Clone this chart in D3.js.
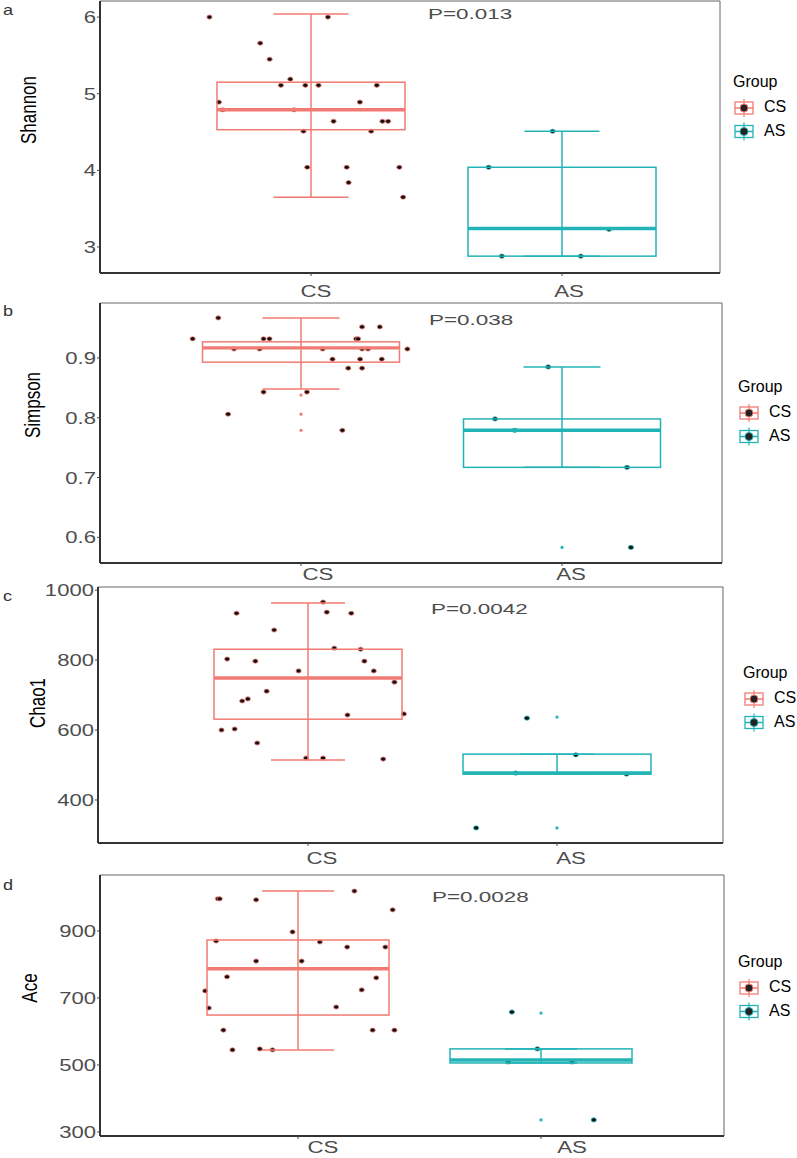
<!DOCTYPE html>
<html><head><meta charset="utf-8">
<script src="https://cdn.jsdelivr.net/npm/d3@7"></script>
<style>body{margin:0;background:#fff} text{font-family:"Liberation Sans",Arial,sans-serif}</style>
</head><body><svg id="c" width="797" height="1158"></svg>
<script>
// ---------- data ----------
const groups = ["CS", "AS"];
const panelLabels = ["a", "b", "c", "d"];
const yTitles = ["Shannon", "Simpson", "Chao1", "Ace"];
const pValues = ["P=0.013", "P=0.038", "P=0.0042", "P=0.0028"];

const shannonTicks = [3, 4, 5, 6];
const simpsonTicks = [0.6, 0.7, 0.8, 0.9];
const chao1Ticks = [400, 600, 800, 1000];
const aceTicks = [300, 500, 700, 900];

// box stats: [lower whisker, Q1, median, Q3, upper whisker]
const shannonBoxCS = [3.65, 4.53, 4.79, 5.15, 6.04];
const shannonBoxAS = [2.88, 2.88, 3.24, 4.04, 4.51];
const shannonOutCS = [];
const shannonOutAS = [];
const shannonCS = [6.0, 6.0, 5.66, 5.45, 5.19, 5.11, 5.11, 5.11, 5.11, 4.89, 4.89, 4.79, 4.79, 4.64, 4.64, 4.64, 4.51, 4.51, 4.04, 4.04, 4.04, 3.84, 3.65];
const shannonCSJitter = [-0.54, 0.09, -0.27, -0.22, -0.11, -0.16, -0.03, 0.04, 0.35, -0.49, 0.26, -0.47, -0.09, 0.12, 0.38, 0.41, -0.04, 0.32, -0.02, 0.19, 0.47, 0.20, 0.49];
const shannonAS = [4.51, 4.04, 3.23, 2.88, 2.88];
const shannonASJitter = [-0.05, -0.39, 0.25, -0.32, 0.10];

const simpsonBoxCS = [0.848, 0.893, 0.917, 0.927, 0.967];
const simpsonBoxAS = [0.717, 0.717, 0.779, 0.798, 0.885];
const simpsonOutCS = [0.838, 0.806, 0.779];
const simpsonOutAS = [0.583];
const simpsonCS = [0.967, 0.932, 0.932, 0.932, 0.932, 0.932, 0.952, 0.952, 0.915, 0.915, 0.915, 0.915, 0.915, 0.915, 0.898, 0.898, 0.898, 0.883, 0.883, 0.843, 0.843, 0.806, 0.779];
const simpsonCSJitter = [-0.42, -0.55, -0.19, -0.16, 0.28, 0.29, 0.31, 0.40, -0.34, -0.21, 0.11, 0.31, 0.34, 0.54, 0.16, 0.30, 0.41, 0.24, 0.31, -0.19, 0.03, -0.37, 0.21];
const simpsonAS = [0.885, 0.798, 0.779, 0.717, 0.583];
const simpsonASJitter = [-0.07, -0.34, -0.24, 0.33, 0.35];

const chao1BoxCS = [514, 631, 749, 831, 963];
const chao1BoxAS = [474, 474, 477, 531, 531];
const chao1OutCS = [];
const chao1OutAS = [637, 320];
const chao1CS = [934, 966, 937, 934, 886, 834, 831, 803, 797, 797, 769, 769, 737, 711, 683, 689, 643, 646, 600, 603, 563, 520, 520, 517];
const chao1CSJitter = [-0.38, 0.08, 0.10, 0.23, -0.18, 0.14, 0.28, -0.43, -0.28, 0.30, -0.05, 0.35, 0.46, -0.22, -0.35, -0.32, 0.21, 0.51, -0.46, -0.39, -0.27, -0.01, 0.08, 0.40];
const chao1AS = [634, 529, 477, 474, 320];
const chao1ASJitter = [-0.16, 0.10, -0.22, 0.37, -0.43];

const aceBoxCS = [545, 649, 787, 873, 1019];
const aceBoxAS = [506, 506, 515, 548, 548];
const aceOutCS = [];
const aceOutAS = [655, 336];
const aceCS = [1019, 996, 996, 993, 963, 897, 870, 867, 852, 852, 810, 810, 763, 760, 721, 724, 670, 673, 604, 604, 604, 545, 548, 545];
const aceCSJitter = [0.31, -0.44, -0.43, -0.23, 0.52, -0.03, -0.45, 0.12, 0.27, 0.48, -0.23, 0.02, -0.39, 0.43, -0.51, 0.35, -0.49, 0.21, -0.41, 0.41, 0.53, -0.36, -0.21, -0.14];
const aceAS = [658, 548, 509, 509, 336];
const aceASJitter = [-0.16, -0.02, -0.18, 0.17, 0.29];

// ---------- layout & style ----------
const colors = {CS: "#F17B72", AS: "#22B3B6"};
const panels = [
  {ticks: shannonTicks, box: {CS: shannonBoxCS, AS: shannonBoxAS}, out: {CS: shannonOutCS, AS: shannonOutAS},
   pts: {CS: shannonCS, AS: shannonAS}, jit: {CS: shannonCSJitter, AS: shannonASJitter},
   frame: {l: 100, t: 1, r: 720, b: 273}, domain: [2.66, 6.21], centers: [311, 562], boxW: 188, capW: 75,
   xlab: [316, 569], xlabY: 297, p: [428, 19], leg: [733, 87], yt: [28, 110], pl: [3, 15]},
  {ticks: simpsonTicks, box: {CS: simpsonBoxCS, AS: simpsonBoxAS}, out: {CS: simpsonOutCS, AS: simpsonOutAS},
   pts: {CS: simpsonCS, AS: simpsonAS}, jit: {CS: simpsonCSJitter, AS: simpsonASJitter},
   frame: {l: 100, t: 303, r: 722, b: 563}, domain: [0.557, 0.992], centers: [301, 562], boxW: 197, capW: 77,
   xlab: [318, 571], xlabY: 580, p: [429, 325], leg: [738, 392], yt: [32, 405], pl: [3, 316]},
  {ticks: chao1Ticks, box: {CS: chao1BoxCS, AS: chao1BoxAS}, out: {CS: chao1OutCS, AS: chao1OutAS},
   pts: {CS: chao1CS, AS: chao1AS}, jit: {CS: chao1CSJitter, AS: chao1ASJitter},
   frame: {l: 98, t: 587, r: 723, b: 843}, domain: [277, 1009], centers: [308, 557], boxW: 188, capW: 74,
   xlab: [322, 571], xlabY: 864, p: [431, 614], leg: [743, 678], yt: [37, 703], pl: [3, 601]},
  {ticks: aceTicks, box: {CS: aceBoxCS, AS: aceBoxAS}, out: {CS: aceOutCS, AS: aceOutAS},
   pts: {CS: aceCS, AS: aceAS}, jit: {CS: aceCSJitter, AS: aceASJitter},
   frame: {l: 100, t: 875, r: 724, b: 1136}, domain: [288, 1067], centers: [298, 541], boxW: 182, capW: 72,
   xlab: [323, 572], xlabY: 1153, p: [432, 902], leg: [738, 967], yt: [29, 988], pl: [3, 890]}
];

const svg = d3.select("#c");
svg.append("rect").attr("width", 797).attr("height", 1158).attr("fill", "#fff");

panels.forEach((P, i) => {
  const f = P.frame;
  const y = d3.scaleLinear().domain(P.domain).range([f.b, f.t]);
  const x = d3.scalePoint().domain(groups).range(P.centers);
  const xl = d3.scalePoint().domain(groups).range(P.xlab);
  const g = svg.append("g");

  // frame
  g.append("line").attr("x1", f.l).attr("x2", f.r).attr("y1", f.t).attr("y2", f.t).attr("stroke", "#666").attr("stroke-width", 1);
  g.append("line").attr("x1", f.r).attr("x2", f.r).attr("y1", f.t).attr("y2", f.b).attr("stroke", "#666").attr("stroke-width", 1);

  // points (drawn under boxes)
  groups.forEach(k => {
    g.selectAll(null).data(P.pts[k]).enter().append("ellipse")
      .attr("cx", (d, j) => x(k) + P.jit[k][j] * P.boxW)
      .attr("cy", d => y(d))
      .attr("rx", 2.6).attr("ry", 2.1)
      .attr("fill", "#111").attr("stroke", colors[k]).attr("stroke-width", 0.8);
  });

  // boxes
  groups.forEach(k => {
    const b = P.box[k], c = colors[k], cx = x(k);
    g.append("line").attr("x1", cx).attr("x2", cx).attr("y1", y(b[0])).attr("y2", y(b[4])).attr("stroke", c).attr("stroke-width", 1.5);
    [b[0], b[4]].forEach(v => g.append("line").attr("x1", cx - P.capW / 2).attr("x2", cx + P.capW / 2)
      .attr("y1", y(v)).attr("y2", y(v)).attr("stroke", c).attr("stroke-width", 1.5));
    g.append("rect").attr("x", cx - P.boxW / 2).attr("width", P.boxW)
      .attr("y", y(b[3])).attr("height", Math.max(0.5, y(b[1]) - y(b[3])))
      .attr("fill", "none").attr("stroke", c).attr("stroke-width", 1.5);
    g.append("line").attr("x1", cx - P.boxW / 2).attr("x2", cx + P.boxW / 2)
      .attr("y1", y(b[2])).attr("y2", y(b[2])).attr("stroke", c).attr("stroke-width", 3.4);
    g.selectAll(null).data(P.out[k]).enter().append("circle")
      .attr("cx", cx).attr("cy", d => y(d)).attr("r", 1.6).attr("fill", c);
  });

  // axes lines
  g.append("line").attr("x1", f.l).attr("x2", f.l).attr("y1", f.t).attr("y2", f.b).attr("stroke", "#333").attr("stroke-width", 2);
  g.append("line").attr("x1", f.l).attr("x2", f.r).attr("y1", f.b).attr("y2", f.b).attr("stroke", "#333").attr("stroke-width", 2);

  // y ticks
  P.ticks.forEach(t => {
    g.append("line").attr("x1", f.l - 3).attr("x2", f.l).attr("y1", y(t)).attr("y2", y(t)).attr("stroke", "#444").attr("stroke-width", 1);
    g.append("text").attr("transform", `translate(${f.l - 4},${y(t)}) scale(1.3,1)`)
      .attr("text-anchor", "end").attr("dy", "0.36em").attr("font-size", 17).attr("fill", "#4d4d4d").text(t);
  });
  // x ticks
  groups.forEach(k => {
    g.append("line").attr("x1", x(k)).attr("x2", x(k)).attr("y1", f.b).attr("y2", f.b + 3).attr("stroke", "#444").attr("stroke-width", 1);
    g.append("text").attr("transform", `translate(${xl(k)},${P.xlabY}) scale(1.35,1)`)
      .attr("text-anchor", "middle").attr("font-size", 16.5).attr("fill", "#4d4d4d").text(k);
  });

  // y title
  g.append("text").attr("transform", `translate(${P.yt[0]},${P.yt[1]}) scale(1.3,1) rotate(-90)`)
    .attr("text-anchor", "middle").attr("dy", "0.36em").attr("font-size", 17).attr("fill", "#000").text(yTitles[i]);

  // panel label
  g.append("text").attr("transform", `translate(${P.pl[0]},${P.pl[1]}) scale(1.25,1)`)
    .attr("font-size", 14.5).attr("fill", "#333").text(panelLabels[i]);

  // p value
  g.append("text").attr("transform", `translate(${P.p[0]},${P.p[1]}) scale(1.45,1)`)
    .attr("font-size", 15.5).attr("fill", "#4d4d4d").text(pValues[i]);

  // legend
  const lx = P.leg[0], ly = P.leg[1];
  g.append("text").attr("x", lx).attr("y", ly).attr("font-size", 16).attr("fill", "#000").text("Group");
  groups.forEach((k, j) => {
    const kx = lx + 11, ky = ly + 21 + j * 23.5, c = colors[k];
    g.append("line").attr("x1", kx).attr("x2", kx).attr("y1", ky - 9).attr("y2", ky + 9).attr("stroke", c).attr("stroke-width", 1.2);
    g.append("rect").attr("x", kx - 9).attr("y", ky - 6).attr("width", 18).attr("height", 12)
      .attr("fill", "none").attr("stroke", c).attr("stroke-width", 1.3);
    g.append("line").attr("x1", kx - 9).attr("x2", kx + 9).attr("y1", ky).attr("y2", ky).attr("stroke", c).attr("stroke-width", 1.5);
    g.append("circle").attr("cx", kx).attr("cy", ky).attr("r", 4).attr("fill", "#222").attr("stroke", c).attr("stroke-width", 1);
    g.append("text").attr("x", lx + 31).attr("y", ly + 25 + j * 24).attr("font-size", 16).attr("fill", "#000").text(k);
  });
});
</script></body></html>
